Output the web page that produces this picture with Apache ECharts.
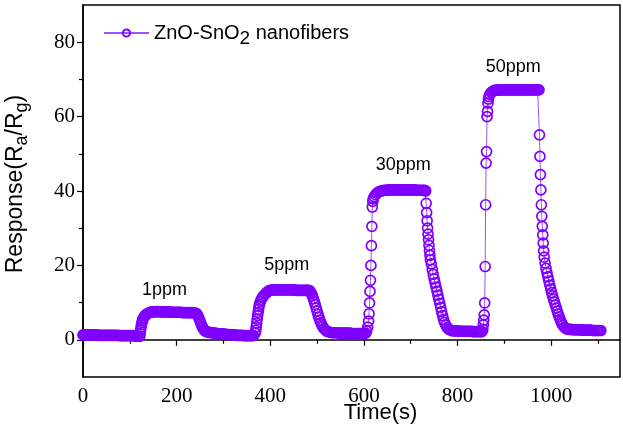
<!DOCTYPE html>
<html>
<head>
<meta charset="utf-8">
<script src="https://cdn.jsdelivr.net/npm/echarts@6/dist/echarts.min.js"></script>
<style>
html,body{margin:0;padding:0;background:#fff;}
#chart{width:623px;height:429px;}
</style>
</head>
<body>
<div id="chart"></div>
<script>
// ---- data ----
const timeS = [
  // baseline
  0,3,6,9,12,15,18,21,24,27,
  30,33,36,39,42,45,48,51,54,57,
  60,63,66,69,72,75,78,81,84,87,
  90,93,96,99,102,105,108,111,114,117,
  // 1 ppm rise
  121,122,123,124,125,126,127,128,130,132,
  134,137,140,143,146,149,
  // 1 ppm plateau
  152,155,158,161,164,167,170,173,176,179,
  182,185,188,191,194,197,200,203,206,209,
  212,215,218,221,224,227,230,233,236,239,
  242,
  // 1 ppm recovery
  244,246,248,250,252,254,256,258,260,262,265,268,
  // baseline
  271,274,277,280,283,286,289,292,295,298,
  301,304,307,310,313,316,319,322,325,328,
  331,334,337,340,343,346,349,352,355,358,
  361,364,
  // 5 ppm rise
  368,369,370,371,372,373,374,375,376,377,
  379,381,383,386,389,392,395,398,
  // 5 ppm plateau
  401,404,407,410,413,416,419,422,425,428,
  431,434,437,440,443,446,449,452,455,458,
  461,464,467,470,473,476,479,482,
  // 5 ppm recovery
  484,486,488,490,492,494,496,498,500,502,
  504,506,508,510,512,515,518,521,525,529,
  // baseline
  532,535,538,541,544,547,550,553,556,559,
  562,565,568,571,574,577,580,583,586,589,
  592,595,598,601,
  // 30 ppm rise
  604,606,608,610,611,612,613,614,615,616,
  617,618,619,620,622,625,628,631,634,637,
  // 30 ppm plateau
  640,643,646,649,652,655,658,661,664,667,
  670,673,676,679,682,685,688,691,694,697,
  700,703,706,709,712,715,718,721,724,727,
  730,
  // 30 ppm recovery
  732,733,734,735,736,737,738,739,740,741,
  742,744,746,748,750,752,754,756,758,760,
  762,764,766,768,770,772,775,778,781,784,
  787,
  // baseline
  790,793,796,799,802,805,808,811,814,817,
  820,823,826,829,832,835,838,841,844,847,
  850,
  // 50 ppm rise
  852,854,855,856,857,858,859,860,861,862,
  863,864,865,866,867,869,872,875,878,
  // 50 ppm plateau
  881,884,887,890,893,896,899,902,905,908,
  911,914,917,920,923,926,929,932,935,938,
  941,944,947,950,953,956,959,962,965,968,
  971,
  // 50 ppm recovery
  974,975,976,977,978,979,980,981,982,983,
  984,985,987,989,991,993,995,997,999,1001,
  1003,1005,1007,1009,1011,1013,1015,1017,1019,1021,
  1023,1025,1028,1031,1034,
  // baseline
  1037,1040,1043,1046,1049,1052,1055,1058,1061,1064,
  1067,1070,1073,1076,1079,1082,1085,1088,1091,1094,
  1097,1100,1103,1106
];
const response = [
  1.3,1.3,1.3,1.3,1.3,1.3,1.3,1.3,1.3,1.3,
  1.3,1.2,1.2,1.2,1.2,1.2,1.2,1.2,1.2,1.2,
  1.2,1.2,1.2,1.2,1.2,1.2,1.1,1.1,1.1,1.1,
  1.1,1.1,1.1,1.1,1.1,1.1,1.1,1.0,1.0,1.0,
  0.9,1.7,2.6,3.4,4.1,4.7,5.2,5.6,6.0,6.4,
  6.7,7.0,7.2,7.4,7.5,7.5,
  7.5,7.6,7.6,7.6,7.5,7.5,7.5,7.5,7.5,7.5,
  7.5,7.5,7.4,7.4,7.4,7.4,7.4,7.4,7.4,7.4,
  7.3,7.3,7.3,7.3,7.3,7.3,7.3,7.3,7.2,7.2,
  7.1,
  6.8,6.3,5.7,5.0,4.3,3.7,3.2,2.8,2.5,2.3,2.1,2.0,
  2.0,1.9,1.9,1.8,1.8,1.7,1.7,1.6,1.6,1.5,
  1.5,1.5,1.4,1.4,1.4,1.3,1.3,1.3,1.3,1.2,
  1.2,1.2,1.2,1.2,1.1,1.1,1.1,1.1,1.1,1.1,
  1.1,1.1,
  1.8,2.6,3.5,4.5,5.5,6.5,7.4,8.2,9.0,9.6,
  10.3,10.9,11.4,11.9,12.3,12.7,13.0,13.2,
  13.3,13.4,13.4,13.4,13.4,13.4,13.4,13.4,13.4,13.4,
  13.4,13.4,13.4,13.4,13.4,13.4,13.4,13.4,13.3,13.3,
  13.3,13.3,13.3,13.3,13.3,13.3,13.3,13.3,
  13.2,12.9,12.4,11.8,11.1,10.3,9.5,8.6,7.7,6.8,
  6.0,5.2,4.6,4.0,3.5,3.0,2.6,2.3,2.1,2.0,
  1.9,1.9,1.9,1.9,1.9,1.8,1.8,1.8,1.8,1.8,
  1.8,1.8,1.8,1.8,1.7,1.7,1.7,1.7,1.7,1.7,
  1.7,1.7,1.7,1.7,
  1.8,2.4,3.4,5.0,7.0,9.9,13.0,16.0,20.0,25.3,
  30.5,35.7,37.2,37.9,38.5,39.0,39.4,39.7,39.9,40.0,
  40.1,40.2,40.2,40.2,40.3,40.3,40.3,40.3,40.3,40.3,
  40.3,40.3,40.3,40.3,40.3,40.3,40.3,40.3,40.3,40.3,
  40.3,40.3,40.3,40.3,40.2,40.2,40.2,40.2,40.2,40.2,
  40.2,
  40.0,36.7,34.2,32.0,30.0,28.4,26.9,25.4,24.0,22.7,
  21.5,20.4,18.9,17.6,16.4,15.3,14.2,13.1,12.0,10.9,
  9.8,8.7,7.6,6.5,5.5,4.7,3.9,3.3,2.9,2.7,
  2.5,
  2.4,2.4,2.4,2.4,2.4,2.3,2.3,2.3,2.3,2.3,
  2.3,2.3,2.3,2.3,2.2,2.2,2.2,2.2,2.2,2.2,
  2.2,
  2.2,2.8,4.0,5.3,6.7,9.9,19.7,36.3,47.5,50.6,
  60.0,61.4,63.6,64.7,65.4,66.0,66.5,66.8,67.0,
  67.1,67.1,67.1,67.1,67.2,67.2,67.2,67.2,67.2,67.2,
  67.2,67.2,67.2,67.2,67.2,67.2,67.2,67.2,67.2,67.2,
  67.2,67.2,67.2,67.2,67.2,67.2,67.2,67.2,67.2,67.2,
  67.2,
  67.2,55.1,49.3,44.4,40.3,36.3,33.2,30.5,28.2,26.0,
  23.9,22.2,20.6,19.2,18.0,16.9,15.8,14.7,13.7,12.7,
  11.8,10.9,10.1,9.3,8.5,7.7,6.9,6.2,5.5,4.9,
  4.3,3.9,3.4,3.1,2.9,
  2.8,2.8,2.8,2.7,2.7,2.7,2.7,2.7,2.7,2.6,
  2.6,2.6,2.6,2.6,2.6,2.6,2.6,2.5,2.5,2.5,
  2.5,2.5,2.5,2.5
];
const seriesName = 'ZnO-SnO2 nanofibers';

// concentration annotations
const noteTexts = ['1ppm', '5ppm', '30ppm', '50ppm'];
const noteTimes = [174, 435, 684, 919];
const noteValues = [13.3, 20.0, 46.9, 73.2];

// tick labels
const xMajorTicks = [0, 200, 400, 600, 800, 1000];
const xMinorTicks = [100, 300, 500, 700, 900, 1100];
const yMajorTicks = [0, 20, 40, 60, 80];
const yMinorTicks = [10, 30, 50, 70];

// ---- chart ----
if (timeS.length !== response.length) console.error('length mismatch', timeS.length, response.length);
const seriesData = timeS.map((t, i) => [t, response[i]]);
const noteData = noteTexts.map((s, i) => ({ value: [noteTimes[i], noteValues[i]], label: { formatter: s } }));

const SANS = 'Liberation Sans, Arial, sans-serif';
const SERIF = 'Liberation Serif, Times New Roman, serif';
const X_MIN = 0, X_MAX = 1147, Y_MIN = -10, Y_MAX = 90;

const chart = echarts.init(document.getElementById('chart'), null, { renderer: 'canvas' });
chart.setOption({
  animation: false,
  backgroundColor: '#fff',
  grid: { left: 83, right: 3, top: 5, bottom: 52, show: true, borderColor: '#000', borderWidth: 1.5,
          containLabel: false, outerBoundsMode: 'none' },
  legend: {
    data: [seriesName],
    left: 98, top: 18,
    itemWidth: 45, itemHeight: 9,
    formatter: () => 'ZnO-SnO{sub|2} nanofibers',
    textStyle: {
      fontFamily: SANS, fontSize: 20, color: '#000',
      rich: { sub: { fontFamily: SANS, fontSize: 19, color: '#000', padding: [12, 0, 0, 0] } }
    }
  },
  xAxis: [
    {
      type: 'value', min: X_MIN, max: X_MAX, position: 'bottom',
      axisLine: { show: true, lineStyle: { color: '#000', width: 1.5 } },
      axisTick: { show: true, customValues: xMajorTicks, length: 6, lineStyle: { color: '#000', width: 1.2 } },
      axisLabel: { customValues: xMajorTicks, formatter: v => String(v), fontFamily: SERIF, fontSize: 21, color: '#000', margin: 9 },
      splitLine: { show: false },
      name: 'Time(s)', nameLocation: 'middle', nameGap: 25, nameMoveOverlap: false,
      nameTextStyle: { fontFamily: SANS, fontSize: 22, color: '#000', padding: [0, 0, 0, 58] }
    },
    {
      type: 'value', min: X_MIN, max: X_MAX, position: 'bottom',
      axisLine: { show: false },
      axisTick: { show: true, customValues: xMinorTicks, length: 4, lineStyle: { color: '#000', width: 1.2 } },
      axisLabel: { show: false },
      splitLine: { show: false }
    }
  ],
  yAxis: [
    {
      type: 'value', min: Y_MIN, max: Y_MAX, position: 'left',
      axisLine: { show: true, lineStyle: { color: '#000', width: 1.5 } },
      axisTick: { show: true, customValues: yMajorTicks, length: 6, lineStyle: { color: '#000', width: 1.2 } },
      axisLabel: { customValues: yMajorTicks, formatter: v => String(v), fontFamily: SERIF, fontSize: 21, color: '#000', margin: 8 },
      splitLine: { show: false },
      name: 'Response(R{sub|a}/R{sub|g})', nameLocation: 'middle', nameGap: 52, nameRotate: 90, nameMoveOverlap: false,
      nameTextStyle: {
        fontFamily: SANS, fontSize: 23, color: '#000', padding: [0, 0, 0, 14],
        rich: { sub: { fontFamily: SANS, fontSize: 18, color: '#000', padding: [12, 0, 0, 0] } }
      }
    },
    {
      type: 'value', min: Y_MIN, max: Y_MAX, position: 'left',
      axisLine: { show: false },
      axisTick: { show: true, customValues: yMinorTicks, length: 4, lineStyle: { color: '#000', width: 1.2 } },
      axisLabel: { show: false },
      splitLine: { show: false }
    }
  ],
  series: [
    {
      name: seriesName, type: 'line', data: seriesData,
      xAxisIndex: 0, yAxisIndex: 0,
      symbol: 'circle', symbolSize: 10, showAllSymbol: true,
      itemStyle: { color: 'rgba(255,255,255,0)', borderColor: '#7F00FF', borderWidth: 1.7 },
      lineStyle: { color: '#9A55FF', width: 1 },
      emphasis: { disabled: true }
    },
    {
      name: 'notes', type: 'scatter', data: noteData,
      xAxisIndex: 0, yAxisIndex: 0,
      symbolSize: 0, silent: true,
      itemStyle: { opacity: 1 },
      label: { show: true, position: 'inside', fontFamily: SANS, fontSize: 18, color: '#000', opacity: 1 }
    }
  ]
});
</script>
</body>
</html>
